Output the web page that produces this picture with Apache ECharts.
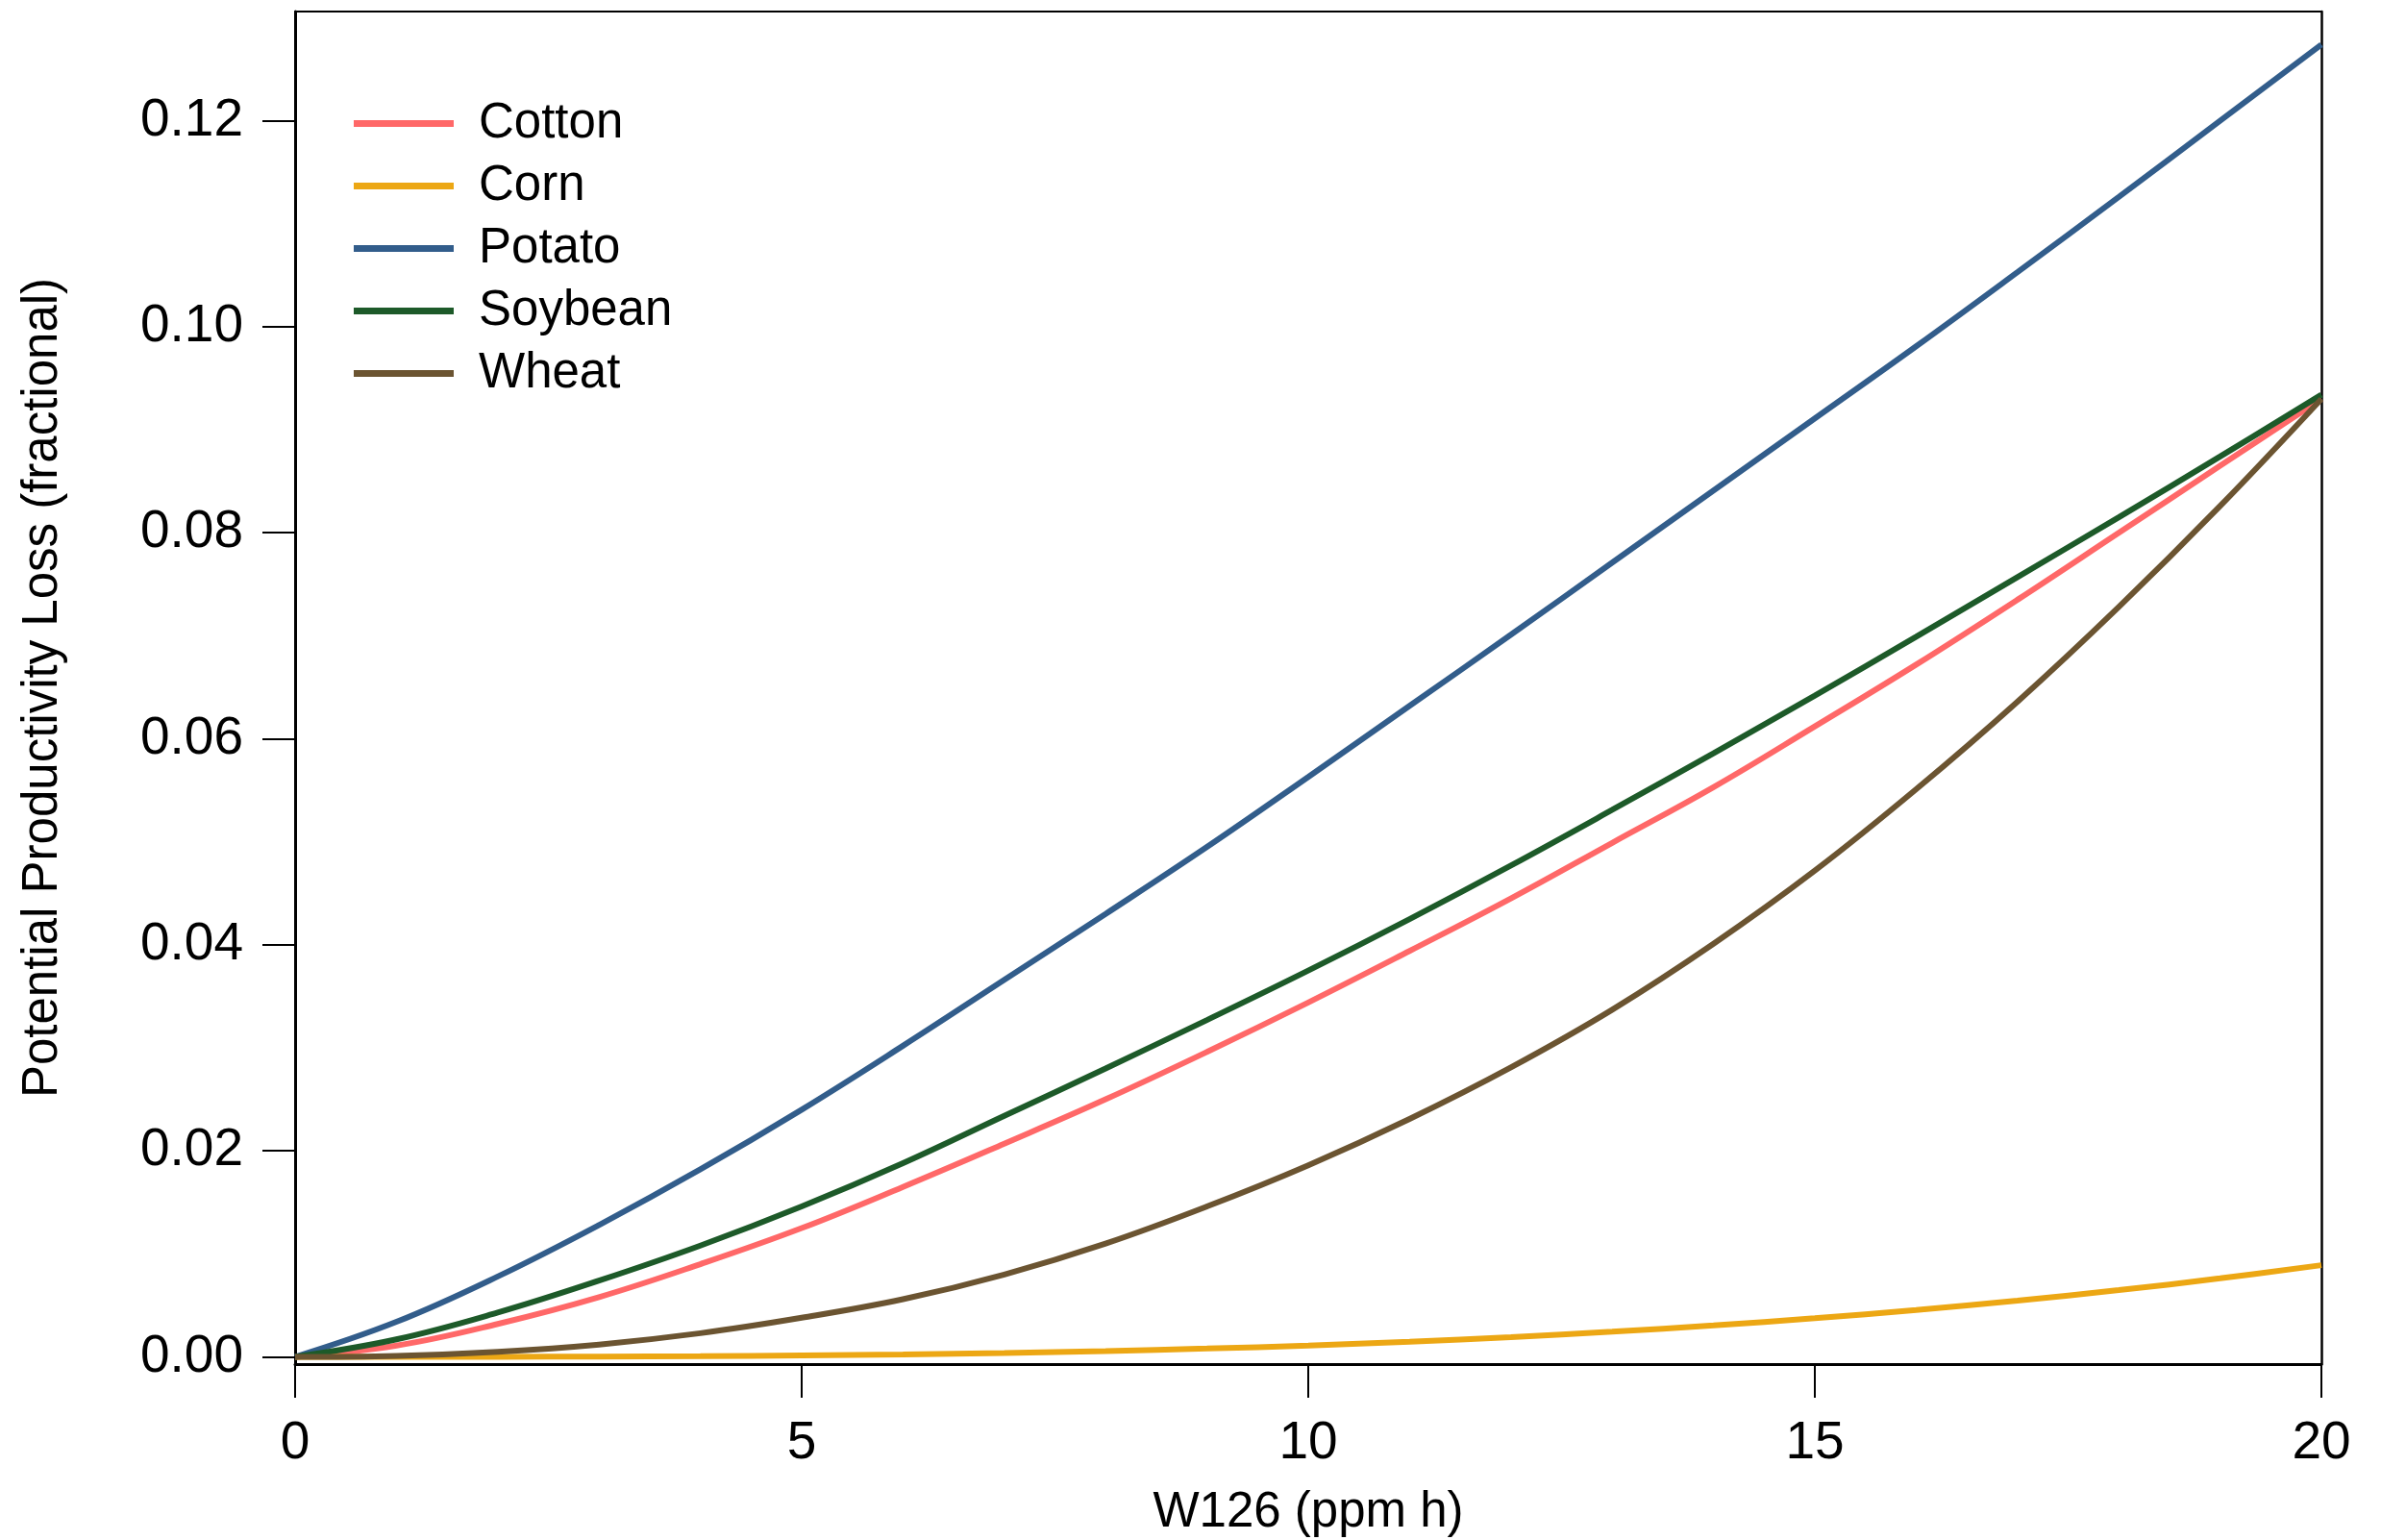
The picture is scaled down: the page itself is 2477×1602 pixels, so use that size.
<!DOCTYPE html>
<html>
<head>
<meta charset="utf-8">
<script src="https://cdn.jsdelivr.net/npm/echarts@6/dist/echarts.min.js"></script>
<style>
  html, body { margin: 0; padding: 0; background: #fff; }
  #chart { width: 2477px; height: 1602px; }
</style>
</head>
<body>
<div id="chart"></div>
<script>
// W126 exposure (ppm h) and fractional loss
const w126 = [0, 1, 2, 3, 4, 5, 6, 7, 8, 9, 10, 11, 12, 13, 14, 15, 16, 17, 18, 19, 20];
const cotton = [0, 0.0011, 0.0032, 0.0058, 0.0090, 0.0125, 0.0165, 0.0207, 0.0250, 0.0296, 0.0344, 0.0394, 0.0445, 0.0499, 0.0553, 0.0612, 0.0672, 0.0735, 0.0800, 0.0865, 0.0930];
const corn = [0, 0, 0.00001, 0.00003, 0.00007, 0.00014, 0.00024, 0.00038, 0.00057, 0.00081, 0.0011, 0.00148, 0.00192, 0.00244, 0.00305, 0.00375, 0.00455, 0.00546, 0.00648, 0.00762, 0.0089];
const potato = [0, 0.0034, 0.0078, 0.0128, 0.0182, 0.0240, 0.0302, 0.0366, 0.0430, 0.0495, 0.0563, 0.0632, 0.0701, 0.0771, 0.0841, 0.0911, 0.0981, 0.1053, 0.1126, 0.1200, 0.1274];
const soybean = [0, 0.0017, 0.0043, 0.0074, 0.0108, 0.0146, 0.0188, 0.0234, 0.0280, 0.0327, 0.0375, 0.0425, 0.0477, 0.0531, 0.0586, 0.0642, 0.0699, 0.0757, 0.0815, 0.0874, 0.0934];
const wheat = [0, 0.0001, 0.0005, 0.0012, 0.0023, 0.0038, 0.0056, 0.0080, 0.0110, 0.0146, 0.0186, 0.0231, 0.0281, 0.0337, 0.0401, 0.0472, 0.0551, 0.0636, 0.0728, 0.0826, 0.0930];

const yTicks = [0, 0.02, 0.04, 0.06, 0.08, 0.10, 0.12];
const crops = ['Cotton', 'Corn', 'Potato', 'Soybean', 'Wheat'];
const cropValues = [cotton, corn, potato, soybean, wheat];
const cropColors = ['#ff6868', '#eca714', '#325d8b', '#1d5a29', '#6b5431'];

const font = '"Liberation Sans", Arial, sans-serif';
const textBase = { fontFamily: font, fontSize: 51, color: '#000' };
const tickText = { fontFamily: font, fontSize: 55, color: '#000' };

const chart = echarts.init(document.getElementById('chart'), null, { renderer: 'canvas' });

chart.setOption({
  backgroundColor: '#fff',
  animation: false,
  grid: { left: 307, right: 62, top: 12, bottom: 183, containLabel: false, outerBoundsMode: 'none' },
  legend: {
    orient: 'vertical',
    left: 368,
    top: 103,
    padding: 0,
    itemWidth: 104,
    itemHeight: 7,
    itemGap: 14,
    icon: 'rect',
    textStyle: Object.assign({ lineHeight: 51, padding: [0, 0, 0, 21] }, textBase),
    data: crops
  },
  xAxis: [{
    type: 'value',
    min: 0,
    max: 20,
    interval: 5,
    position: 'bottom',
    axisLine: { show: true, onZero: false, lineStyle: { color: '#000', width: 3 } },
    axisTick: { show: true, inside: false, length: 35, lineStyle: { color: '#000', width: 2 } },
    axisLabel: Object.assign({ margin: 55 }, tickText),
    splitLine: { show: false },
    name: 'W126 (ppm h)',
    nameLocation: 'middle',
    nameGap: 129,
    nameTextStyle: textBase
  }, {
    type: 'value',
    min: 0,
    max: 20,
    position: 'top',
    axisLine: { show: true, onZero: false, lineStyle: { color: '#000', width: 2 } },
    axisTick: { show: false },
    axisLabel: { show: false },
    splitLine: { show: false }
  }],
  yAxis: [{
    type: 'value',
    min: -0.0007,
    max: 0.1306,
    position: 'left',
    axisLine: { show: true, onZero: false, lineStyle: { color: '#000', width: 3 } },
    axisTick: { show: true, inside: false, length: 34, customValues: yTicks, lineStyle: { color: '#000', width: 2 } },
    axisLabel: Object.assign({
      margin: 54,
      customValues: yTicks,
      formatter: v => v.toFixed(2)
    }, tickText),
    splitLine: { show: false },
    name: 'Potential Productivity Loss (fractional)',
    nameLocation: 'middle',
    nameGap: 237,
    nameTextStyle: textBase
  }, {
    type: 'value',
    min: -0.0007,
    max: 0.1306,
    position: 'right',
    axisLine: { show: true, onZero: false, lineStyle: { color: '#000', width: 2.5 } },
    axisTick: { show: false },
    axisLabel: { show: false },
    splitLine: { show: false }
  }],
  series: crops.map((name, i) => ({
    name: name,
    type: 'line',
    xAxisIndex: 0,
    yAxisIndex: 0,
    showSymbol: false,
    smooth: 0.4,
    color: cropColors[i],
    lineStyle: { width: 6, color: cropColors[i] },
    data: w126.map((x, j) => [x, cropValues[i][j]])
  }))
});
</script>
</body>
</html>
